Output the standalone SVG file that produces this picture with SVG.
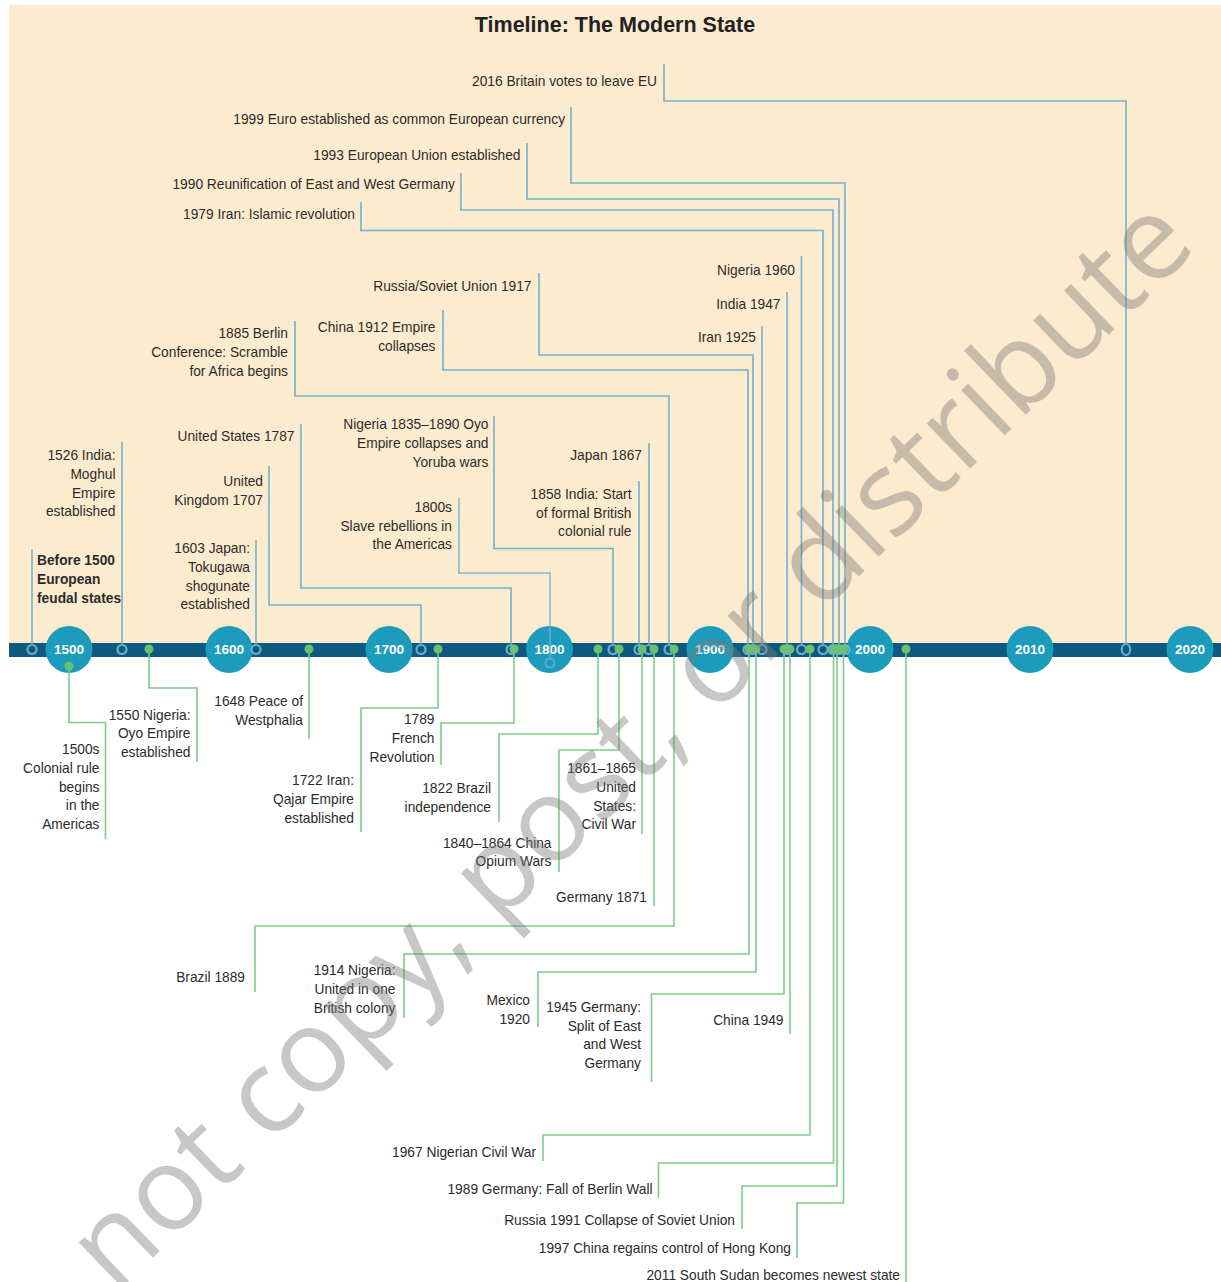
<svg xmlns="http://www.w3.org/2000/svg" width="1221" height="1282" viewBox="0 0 1221 1282">
<style>
.t{font-family:"Liberation Sans",Arial,sans-serif;font-size:13.75px;fill:#2b2b2b;text-anchor:end}
.b{font-weight:bold;text-anchor:start}
.yr{font-family:"Liberation Sans",Arial,sans-serif;font-size:13.5px;font-weight:bold;fill:#ffffff;text-anchor:middle}
.bl{fill:none;stroke:#6db2cf;stroke-width:1.6}
.gl{fill:none;stroke:#7dcc88;stroke-width:1.6}
.ring{fill:none;stroke:#6aaed0;stroke-width:2.2}
.dot{fill:#6cc070}
.yc{fill:#1d9bbd}
.wm{font-family:"Open Sans","DejaVu Sans",sans-serif;font-size:117px;fill:#7a7a7a;fill-opacity:0.42}
</style>
<rect x="0" y="0" width="1221" height="1282" fill="#ffffff"/>
<rect x="9" y="5" width="1212" height="640" fill="#fdebcf"/>
<text x="615" y="32" style="font-family:'Liberation Sans',Arial,sans-serif;font-size:21.5px;font-weight:bold;fill:#222222;text-anchor:middle">Timeline: The Modern State</text>
<rect id="band" x="9" y="643" width="1212" height="14" fill="#0e5a7e"/>
<g id="years">
<circle class="yc" cx="69" cy="649.5" r="23.5"/><text class="yr" x="69" y="654.3">1500</text>
<circle class="yc" cx="229" cy="649.5" r="23.5"/><text class="yr" x="229" y="654.3">1600</text>
<circle class="yc" cx="389" cy="649.5" r="23.5"/><text class="yr" x="389" y="654.3">1700</text>
<circle class="yc" cx="549.5" cy="649.5" r="23.5"/><text class="yr" x="549.5" y="654.3">1800</text>
<circle class="yc" cx="710" cy="649.5" r="23.5"/><text class="yr" x="710" y="654.3">1900</text>
<circle class="yc" cx="870" cy="649.5" r="23.5"/><text class="yr" x="870" y="654.3">2000</text>
<circle class="yc" cx="1030" cy="649.5" r="23.5"/><text class="yr" x="1030" y="654.3">2010</text>
<circle class="yc" cx="1190" cy="649.5" r="23.5"/><text class="yr" x="1190" y="654.3">2020</text>
</g>
<g id="connectors">
<path class="bl" d="M32,549V644"/>
<path class="bl" d="M122,442V644"/>
<path class="bl" d="M256,540V644"/>
<path class="bl" d="M269,466V605H421V644"/>
<path class="bl" d="M301,424V588H511V644"/>
<path class="bl" d="M459,498V573H550V658" stroke-opacity="0.85"/>
<path class="bl" d="M494,416V548.5H613V644"/>
<path class="bl" d="M639,481V644"/>
<path class="bl" d="M649,443V644"/>
<path class="bl" d="M295,321V396H669V644"/>
<path class="bl" d="M443,310V370H748V644"/>
<path class="bl" d="M539,273V355H753V644"/>
<path class="bl" d="M762,326V644"/>
<path class="bl" d="M787,292V644"/>
<path class="bl" d="M801.5,256V644"/>
<path class="bl" d="M361,202V230.5H823V644"/>
<path class="bl" d="M461,173V210H833V644"/>
<path class="bl" d="M527,143V199H839V644"/>
<path class="bl" d="M571,107V183H845V644"/>
<path class="bl" d="M664,64V101H1126V643"/>
<path class="gl" d="M69,666V722.5H105.5V839"/>
<path class="gl" d="M149,649V688H197V762"/>
<path class="gl" d="M309,649V739"/>
<path class="gl" d="M438,649V708H361V832"/>
<path class="gl" d="M514,649V723H441V765"/>
<path class="gl" d="M598,649V734H499V822"/>
<path class="gl" d="M619,649V750H559V872"/>
<path class="gl" d="M642,649V834"/>
<path class="gl" d="M654,649V906"/>
<path class="gl" d="M674,649V926H255V992"/>
<path class="gl" d="M749,649V954H404V1018"/>
<path class="gl" d="M756,649V972H538V1027"/>
<path class="gl" d="M784,649V994H651.5V1082"/>
<path class="gl" d="M790,649V1034"/>
<path class="gl" d="M810,649V1135H543V1161"/>
<path class="gl" d="M833.5,649V1163H658.5V1198"/>
<path class="gl" d="M837,649V1186H742V1229"/>
<path class="gl" d="M843.5,649V1203H797V1258"/>
<path class="gl" d="M906,649V1282"/>
</g>
<g id="top-events">
<g id="e-before1500"><circle class="ring" cx="32" cy="649.5" r="4.5"/><text class="t b" x="37" y="564.5">Before 1500</text><text class="t b" x="37" y="584">European</text><text class="t b" x="37" y="603">feudal states</text></g>
<g id="e-1526"><circle class="ring" cx="122" cy="649.5" r="4.5"/><text class="t" x="115.5" y="460">1526 India:</text><text class="t" x="115.5" y="479">Moghul</text><text class="t" x="115.5" y="498">Empire</text><text class="t" x="115.5" y="516">established</text></g>
<g id="e-1603"><circle class="ring" cx="256" cy="649.5" r="4.5"/><text class="t" x="250" y="553">1603 Japan:</text><text class="t" x="250" y="571.5">Tokugawa</text><text class="t" x="250" y="590.5">shogunate</text><text class="t" x="250" y="609">established</text></g>
<g id="e-1707"><circle class="ring" cx="421" cy="649.5" r="4.5"/><text class="t" x="263" y="486">United</text><text class="t" x="263" y="504.5">Kingdom 1707</text></g>
<g id="e-1787"><circle class="ring" cx="511" cy="649.5" r="4.5"/><text class="t" x="294.5" y="440.5">United States 1787</text></g>
<g id="e-1800s"><circle class="ring" cx="550" cy="663" r="4.5" stroke-opacity="0.8"/><text class="t" x="452" y="512">1800s</text><text class="t" x="452" y="530.5">Slave rebellions in</text><text class="t" x="452" y="549">the Americas</text></g>
<g id="e-1835"><circle class="ring" cx="613" cy="649.5" r="4.5"/><text class="t" x="488.5" y="429">Nigeria 1835–1890 Oyo</text><text class="t" x="488.5" y="448">Empire collapses and</text><text class="t" x="488.5" y="467">Yoruba wars</text></g>
<g id="e-1858"><circle class="ring" cx="639" cy="649.5" r="4.5"/><text class="t" x="631.5" y="499">1858 India: Start</text><text class="t" x="631.5" y="517.5">of formal British</text><text class="t" x="631.5" y="536">colonial rule</text></g>
<g id="e-1867"><circle class="ring" cx="649" cy="649.5" r="4.5"/><text class="t" x="642" y="459.5">Japan 1867</text></g>
<g id="e-1885"><circle class="ring" cx="669" cy="649.5" r="4.5"/><text class="t" x="288" y="337.5">1885 Berlin</text><text class="t" x="288" y="356.5">Conference: Scramble</text><text class="t" x="288" y="375.5">for Africa begins</text></g>
<g id="e-1912"><circle class="ring" cx="748" cy="649.5" r="4.5"/><text class="t" x="435.5" y="332">China 1912 Empire</text><text class="t" x="435.5" y="351">collapses</text></g>
<g id="e-1917"><circle class="ring" cx="753" cy="649.5" r="4.5"/><text class="t" x="531.5" y="290.5">Russia/Soviet Union 1917</text></g>
<g id="e-1925"><circle class="ring" cx="762" cy="649.5" r="4.5"/><text class="t" x="756" y="342">Iran 1925</text></g>
<g id="e-1947"><circle class="ring" cx="787" cy="649.5" r="4.5"/><text class="t" x="780.5" y="308.5">India 1947</text></g>
<g id="e-1960"><circle class="ring" cx="801.5" cy="649.5" r="4.5"/><text class="t" x="795" y="274.5">Nigeria 1960</text></g>
<g id="e-1979"><circle class="ring" cx="823" cy="649.5" r="4.5"/><text class="t" x="355" y="219">1979 Iran: Islamic revolution</text></g>
<g id="e-1990"><circle class="ring" cx="833" cy="649.5" r="4.5"/><text class="t" x="455" y="188.5">1990 Reunification of East and West Germany</text></g>
<g id="e-1993"><circle class="ring" cx="839" cy="649.5" r="4.5"/><text class="t" x="520.5" y="159.5">1993 European Union established</text></g>
<g id="e-1999"><circle class="ring" cx="845" cy="649.5" r="4.5"/><text class="t" x="565" y="123.5">1999 Euro established as common European currency</text></g>
<g id="e-2016"><ellipse class="ring" cx="1126" cy="649.5" rx="4.2" ry="5.5"/><text class="t" x="657" y="85.5">2016 Britain votes to leave EU</text></g>
</g>
<g id="bottom-events">
<g id="e-1500s"><circle class="dot" cx="69" cy="666" r="4.5"/><text class="t" x="99.5" y="753.5">1500s</text><text class="t" x="99.5" y="772.5">Colonial rule</text><text class="t" x="99.5" y="791.5">begins</text><text class="t" x="99.5" y="810">in the</text><text class="t" x="99.5" y="828.5">Americas</text></g>
<g id="e-1550"><circle class="dot" cx="149" cy="649" r="4.5"/><text class="t" x="190.5" y="719.5">1550 Nigeria:</text><text class="t" x="190.5" y="738">Oyo Empire</text><text class="t" x="190.5" y="757">established</text></g>
<g id="e-1648"><circle class="dot" cx="309" cy="649" r="4.5"/><text class="t" x="303" y="705.5">1648 Peace of</text><text class="t" x="303" y="724.5">Westphalia</text></g>
<g id="e-1722"><circle class="dot" cx="438" cy="649" r="4.5"/><text class="t" x="354" y="785">1722 Iran:</text><text class="t" x="354" y="803.5">Qajar Empire</text><text class="t" x="354" y="822.5">established</text></g>
<g id="e-1789"><circle class="dot" cx="514" cy="649" r="4.5"/><text class="t" x="434.5" y="723.5">1789</text><text class="t" x="434.5" y="742.5">French</text><text class="t" x="434.5" y="761.5">Revolution</text></g>
<g id="e-1822"><circle class="dot" cx="598" cy="649" r="4.5"/><text class="t" x="491" y="792.5">1822 Brazil</text><text class="t" x="491" y="811.5">independence</text></g>
<g id="e-1840"><circle class="dot" cx="619" cy="649" r="4.5"/><text class="t" x="551.5" y="847.5">1840–1864 China</text><text class="t" x="551.5" y="866">Opium Wars</text></g>
<g id="e-1861"><circle class="dot" cx="642" cy="649" r="4.5"/><text class="t" x="636" y="772.5">1861–1865</text><text class="t" x="636" y="791.5">United</text><text class="t" x="636" y="810.5">States:</text><text class="t" x="636" y="829">Civil War</text></g>
<g id="e-1871"><circle class="dot" cx="654" cy="649" r="4.5"/><text class="t" x="647" y="902">Germany 1871</text></g>
<g id="e-1889"><circle class="dot" cx="674" cy="649" r="4.5"/><text class="t" x="245" y="981.5">Brazil 1889</text></g>
<g id="e-1914"><circle class="dot" cx="749" cy="649" r="4.5"/><text class="t" x="395.5" y="975">1914 Nigeria:</text><text class="t" x="395.5" y="993.5">United in one</text><text class="t" x="395.5" y="1012.5">British colony</text></g>
<g id="e-1920"><circle class="dot" cx="756" cy="649" r="4.5"/><text class="t" x="530" y="1004.5">Mexico</text><text class="t" x="530" y="1023.5">1920</text></g>
<g id="e-1945"><circle class="dot" cx="784" cy="649" r="4.5"/><text class="t" x="641" y="1012">1945 Germany:</text><text class="t" x="641" y="1030.5">Split of East</text><text class="t" x="641" y="1049">and West</text><text class="t" x="641" y="1067.5">Germany</text></g>
<g id="e-1949"><circle class="dot" cx="790" cy="649" r="4.5"/><text class="t" x="783.5" y="1025">China 1949</text></g>
<g id="e-1967"><circle class="dot" cx="810" cy="649" r="4.5"/><text class="t" x="536" y="1157">1967 Nigerian Civil War</text></g>
<g id="e-1989"><circle class="dot" cx="833.5" cy="649" r="4.5"/><text class="t" x="652.5" y="1193.5">1989 Germany: Fall of Berlin Wall</text></g>
<g id="e-1991"><circle class="dot" cx="837" cy="649" r="4.5"/><text class="t" x="735" y="1224.5">Russia 1991 Collapse of Soviet Union</text></g>
<g id="e-1997"><circle class="dot" cx="843.5" cy="649" r="4.5"/><text class="t" x="791" y="1252.5">1997 China regains control of Hong Kong</text></g>
<g id="e-2011"><circle class="dot" cx="906" cy="649" r="4.5"/><text class="t" x="900" y="1279.5">2011 South Sudan becomes newest state</text></g>
</g>
<text class="wm" text-anchor="middle" transform="translate(657,771) rotate(-44)">not copy, post, or distribute</text>
</svg>
